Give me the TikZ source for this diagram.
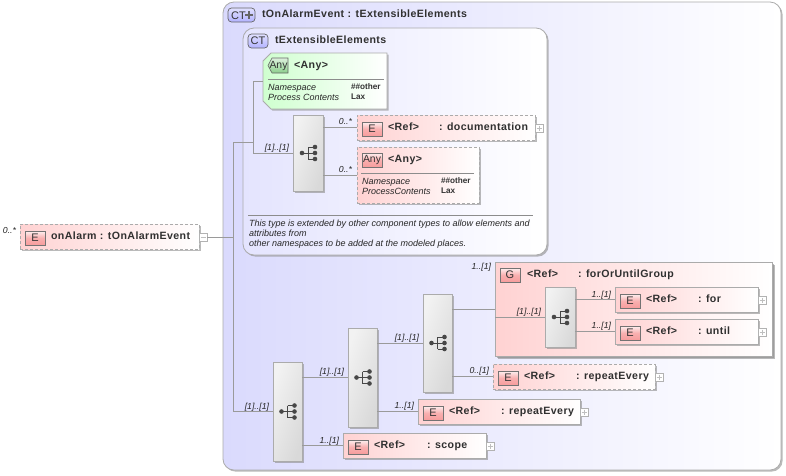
\documentclass[tikz,border=0pt]{standalone}
\usepackage{fontspec}
\setmainfont{Liberation Sans}
\usetikzlibrary{shadows,calc}
\definecolor{conn}{HTML}{9A9A9A}
\definecolor{frameC}{HTML}{ABABAB}
\definecolor{ctblue}{HTML}{DADAFD}
\definecolor{ctin}{HTML}{E4E4FE}
\definecolor{pinkL}{HTML}{FFD2D2}
\definecolor{badgeR}{HTML}{F79C9C}
\definecolor{greenL}{HTML}{CFFFCF}
\definecolor{badgeG}{HTML}{8CCF8C}
\definecolor{txt}{HTML}{303030}
\newcommand{\bfx}{\fontsize{10.6}{12}\selectfont\bfseries\addfontfeatures{LetterSpace=4}}
\newcommand{\smx}{\fontsize{9}{10}\selectfont\itshape}
\tikzset{
 x=1pt,y=-1pt,
 shad/.style={drop shadow={shadow xshift=1.6pt,shadow yshift=-1.6pt,fill=black!45,opacity=.6}},
 box/.style={anchor=north west,inner sep=0pt,outer sep=0pt,shad,left color=pinkL,right color=white,draw=frameC,line width=.8pt},
 dbox/.style={box,dashed,dash pattern=on 3pt off 2pt},
 sbox/.style={box},
 seqbox/.style={anchor=north west,inner sep=0pt,outer sep=0pt,shad,draw=frameC,line width=.7pt,left color=black!5,right color=black!15,shading angle=70},
 badge/.style={anchor=north west,inner sep=0pt,outer sep=0pt,minimum width=20pt,minimum height=14pt,draw=black!55,line width=.6pt,top color=white!85!badgeR,bottom color=badgeR,middle color=badgeR!80,font=\fontsize{11}{11}\selectfont,text=black!80},
 ctbadge/.style={anchor=north west,inner sep=0pt,outer sep=0pt,minimum height=14pt,rounded corners=3.5pt,draw=black!60,line width=.7pt,top color=white!88!blue,bottom color=blue!30,font=\fontsize{11}{11}\selectfont,text=black!80},
 lab/.style={anchor=base west,inner sep=0pt,outer sep=0pt,text=txt,font=\bfx},
 mult/.style={anchor=base east,inner sep=0pt,outer sep=0pt,font=\fontsize{8.7}{9}\selectfont\itshape,text=black!85},
 small/.style={anchor=base west,inner sep=0pt,outer sep=0pt,font=\smx,text=black!85},
 smallb/.style={anchor=base west,inner sep=0pt,outer sep=0pt,font=\fontsize{8.2}{9}\selectfont\bfseries,text=black!80},
 expbox/.style={anchor=north west,inner sep=0pt,outer sep=0pt,minimum width=8pt,minimum height=8pt,draw=black!30,fill=white,line width=.6pt},
 line/.style={draw=conn,line width=.8pt},
}
% \seqb{name}{x}{y}{w}{h}
\newcommand{\seqb}[5]{%
 \node[seqbox,minimum width=#4pt,minimum height=#5pt] (#1) at (#2,#3) {};
 \fill[black!72] ($(#1.center)+(-6,0)$) circle (2.3pt);
 \draw[black!72,line width=1pt] ($(#1.center)+(-6,0)$) -- ($(#1.center)+(7,0)$)
   ($(#1.center)+(0,-6)$) -- ($(#1.center)+(0,6)$)
   ($(#1.center)+(0,-6)$) -- ($(#1.center)+(7,-6)$)
   ($(#1.center)+(0,6)$) -- ($(#1.center)+(7,6)$);
 \foreach \d in {-6,0,6} \fill[black!72] ($(#1.center)+(7,\d)$) circle (2.3pt);
}
% \elem{name}{style}{x}{y}{w}{x-offset of second text}{second text}
\newcommand{\elem}[7]{%
 \node[#2,minimum width=#5pt,minimum height=25pt] (#1) at (#3,#4) {};
 \node[badge] (#1b) at (#3+5,#4+7) {E};
 \node[lab] (#1r) at (#3+31,#4+15) {<Ref>};
 \node[lab] (#1t) at (#3+#6,#4+15) {#7};
 \node[expbox] (#1x) at (#3+#5,#4+9) {};
 \draw[black!25,line width=.5pt] ($(#1x.center)+(-2.5,0)$) -- ($(#1x.center)+(2.5,0)$) ($(#1x.center)+(0,-2.5)$) -- ($(#1x.center)+(0,2.5)$);
}
\begin{document}
\begin{tikzpicture}
\useasboundingbox (0,0) rectangle (786,475);
\fill[white] (0,0) rectangle (786,475);
% outer complex type
\node[anchor=north west,inner sep=0pt,outer sep=0pt,minimum width=558pt,minimum height=468pt,rounded corners=11pt,left color=ctblue,right color=white,draw=frameC,line width=.8pt,shad] (outer) at (223,2) {};
\node[ctbadge,minimum width=27pt] (outerb) at (228,8) {};
\node[anchor=base west,inner sep=0pt,font=\fontsize{11}{11}\selectfont,text=black!80] (outerc) at (231,19) {CT};
\draw[black!60,line width=1.7pt] (245,15) -- (253,15) (249,11) -- (249,19);
\node[lab] (outert) at (262,17.5) {tOnAlarmEvent : tExtensibleElements};
% inner complex type
\node[anchor=north west,inner sep=0pt,outer sep=0pt,minimum width=304pt,minimum height=227pt,rounded corners=11pt,left color=ctin,right color=white,draw=frameC,line width=.8pt,shad] (inner) at (243,28) {};
\node[ctbadge,minimum width=20pt] (innerb) at (248,34) {CT};
\node[lab] (innert) at (275,43) {tExtensibleElements};
% green any
\coordinate (gany) at (263,81);
\path[left color=greenL,right color=white,draw=frameC,line width=.8pt,shad] (271,53) -- (387,53) -- (387,109) -- (271,109) -- (263,101) -- (263,61) -- cycle;
\path[top color=white!70!badgeG,bottom color=badgeG,draw=black!60,line width=.6pt] (288,58) -- (288,73) -- (272,73) -- (268,65.5) -- (272,58) -- cycle;
\node[anchor=center,inner sep=0pt,font=\fontsize{10.4}{10}\selectfont,text=black!80] (ganyb) at (278.5,66) {Any};
\node[lab] (ganyt) at (294,68) {<Any>};
\draw[black!45,line width=.6pt] (268,79) -- (384,79);
\node[small] (g1) at (268,90) {Namespace};
\node[small] (g2) at (268,100) {Process Contents};
\node[smallb] (g3) at (351,89.5) {\#\#other};
\node[smallb] (g4) at (351,99) {Lax};
% sequence in inner
\seqb{sq}{293}{115}{30}{76}
\elem{doc}{dbox}{357}{115}{178}{82}{: documentation}
\node[dbox,minimum width=122pt,minimum height=56pt] (rany) at (357,147) {};
\node[badge] (ranyb) at (362,153) {\fontsize{10.4}{10}\selectfont Any};
\node[lab] (ranyt) at (388,162) {<Any>};
\draw[black!45,line width=.6pt] (361,173) -- (474,173);
\node[small] (r1) at (362,184) {Namespace};
\node[small] (r2) at (362,194) {ProcessContents};
\node[smallb] (r3) at (441,183.5) {\#\#other};
\node[smallb] (r4) at (441,193) {Lax};
% doc note
\draw[black!45,line width=.6pt] (248,215) -- (533,215);
\node[small] (n1) at (249,226) {This type is extended by other component types to allow elements and};
\node[small] (n2) at (249,236) {attributes from};
\node[small] (n3) at (249,246) {other namespaces to be added at the modeled places.};
% root element
\node[dbox,minimum width=179pt,minimum height=25pt] (root) at (20,224) {};
\node[badge] (rootb) at (25,231) {E};
\node[lab] (roott) at (51,239) {onAlarm : tOnAlarmEvent};
\node[expbox] (rootx) at (199,233) {};
\draw[black!25,line width=.5pt] ($(rootx.center)+(-2.5,0)$) -- ($(rootx.center)+(2.5,0)$);
\node[mult] (rootm) at (16,233) {0..*};
% group
\node[box,minimum width=277pt,minimum height=94pt,drop shadow={shadow xshift=3pt,shadow yshift=-3pt,fill=black!45,opacity=.6}] (grp) at (495,262) {};
\node[badge] (grpb) at (500,268) {G};
\node[lab] (grpr) at (527,277) {<Ref>};
\node[lab] (grpt) at (578,277) {: forOrUntilGroup};
\node[mult] (grpm) at (491,269) {1..[1]};
% sequences
\seqb{sa}{273}{362}{29}{99}
\seqb{sb}{348}{328}{29}{99}
\seqb{sc}{423}{294}{29}{98}
\seqb{sd}{545}{287}{30}{60}
% elements
\elem{for}{sbox}{615}{287}{143}{83}{: for}
\elem{until}{sbox}{615}{319}{143}{83}{: until}
\elem{rep}{dbox}{493}{364}{162}{83}{: repeatEvery}
\elem{rept}{sbox}{418}{399}{162}{83}{: repeatEvery}
\elem{scope}{sbox}{343}{433}{143}{84}{: scope}
% connectors
\coordinate (trunk) at (233,142);
\coordinate (join) at (253,142);
\draw[line] (rootx.east) -- (rootx.east -| trunk) -- (trunk) -- (join);
\draw[line] (trunk) -- (sa.west -| trunk) -- (sa.west);
\draw[line] (gany -| join) -- (sq.west -| join) -- (sq.west);
\draw[line] (gany -| join) -- (gany);
\draw[line] (doc.west -| sq.east) -- (doc.west);
\draw[line] (rany.west -| sq.east) -- (rany.west);
\draw[line] (sb.west -| sa.east) -- (sb.west);
\draw[line] (scope.west -| sa.east) -- (scope.west);
\draw[line] (sc.west -| sb.east) -- (sc.west);
\draw[line] (rept.west -| sb.east) -- (rept.west);
\draw[line] (rep.west -| sc.east) -- (rep.west);
\draw[line] ($(sc.east)+(0,-34)$) -- ($(sc.east -| grp.west)+(0,-34)$);
\draw[line] (sd.west -| grp.west) -- (sd.west);
\draw[line] (for.west -| sd.east) -- (for.west);
\draw[line] (until.west -| sd.east) -- (until.west);
% multiplicities
\node[mult] (m1) at (289,150) {[1]..[1]};
\node[mult] (m2) at (352,124) {0..*};
\node[mult] (m3) at (352,172) {0..*};
\node[mult] (m4) at (269,409) {[1]..[1]};
\node[mult] (m5) at (344,374) {[1]..[1]};
\node[mult] (m6) at (339,443) {1..[1]};
\node[mult] (m7) at (419,340) {[1]..[1]};
\node[mult] (m8) at (414,408) {1..[1]};
\node[mult] (m9) at (489,373) {0..[1]};
\node[mult] (m10) at (541,314) {[1]..[1]};
\node[mult] (m11) at (611,297) {1..[1]};
\node[mult] (m12) at (611,328) {1..[1]};
\end{tikzpicture}
\end{document}
